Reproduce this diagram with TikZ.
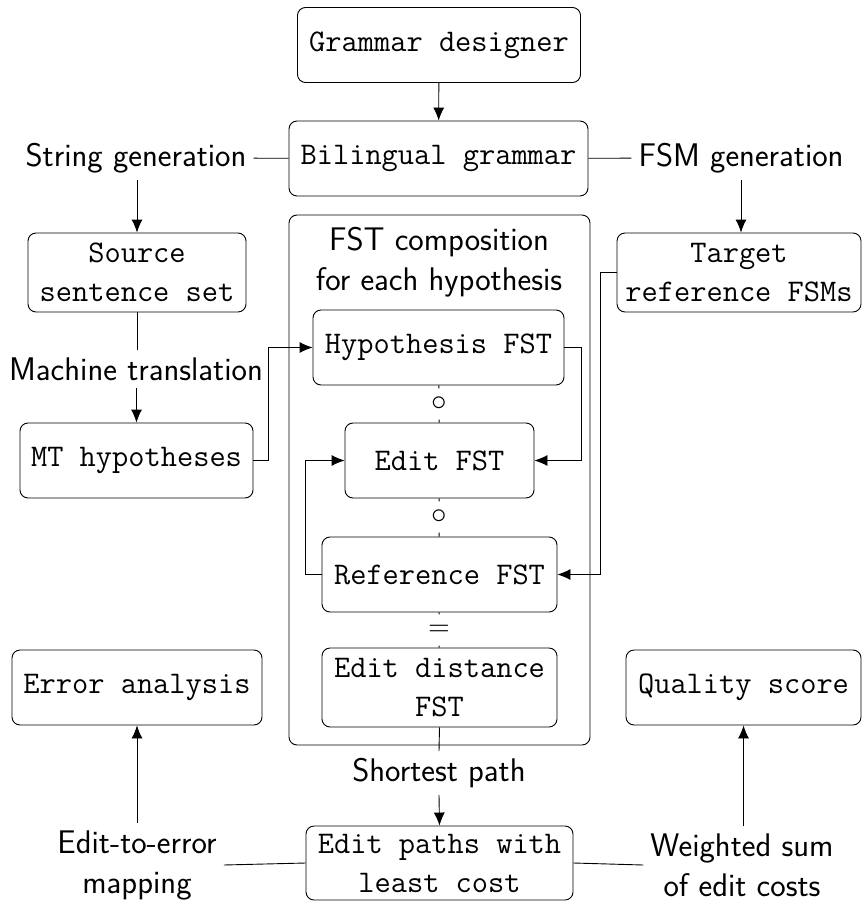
\documentclass[tikz,border=0pt]{standalone}
\usepackage{fontspec}
\usetikzlibrary{arrows.meta}
\tikzset{
  x=1pt, y=-1pt,
  box/.style={draw, rounded corners=8pt, line width=0.9pt, align=center, inner sep=0pt,
    font=\fontsize{31.5}{39}\selectfont\ttfamily},
  lbl/.style={align=center, inner sep=7pt, font=\fontsize{32.7}{40}\selectfont\sffamily},
  op/.style={inner sep=0pt, minimum height=31pt},
  conn/.style={line width=0.9pt},
  arr/.style={line width=0.9pt, -{Latex[length=13pt,width=11pt]}}
}
\begin{document}
\begin{tikzpicture}
\useasboundingbox (0,0) rectangle (862,904);
% container
\node[box, minimum width=301pt, minimum height=530pt] (cont) at (439.5,480) {};
% boxes
\node[box, minimum width=283pt, minimum height=75pt] (gd) at (439,45) {Grammar designer};
\node[box, minimum width=299pt, minimum height=75pt] (bg) at (438.5,158.5) {Bilingual grammar};
\node[box, minimum width=218pt, minimum height=79pt] (src) at (137,272.5) {Source\\sentence set};
\node[box, minimum width=233pt, minimum height=75pt] (mt) at (136.5,460.5) {MT hypotheses};
\node[box, minimum width=251pt, minimum height=75pt] (hyp) at (438.5,347.5) {Hypothesis FST};
\node[box, minimum width=189pt, minimum height=75pt] (edit) at (439.5,460.5) {Edit FST};
\node[box, minimum width=235pt, minimum height=75pt] (ref) at (439.5,574.5) {Reference FST};
\node[box, minimum width=244pt, minimum height=79pt] (tgt) at (739,272.5) {Target\\reference FSMs};
\node[box, minimum width=235pt, minimum height=79pt] (edd) at (439.5,687.5) {Edit distance\\FST};
\node[box, minimum width=267pt, minimum height=74pt] (ep) at (439.5,863) {Edit paths with\\least cost};
\node[box, minimum width=250pt, minimum height=75pt] (ea) at (137,687.5) {Error analysis};
\node[box, minimum width=235pt, minimum height=75pt] (qs) at (743.5,687.5) {Quality score};
% labels
\node[lbl] (sg) at (136,158) {String generation};
\node[lbl] (fg) at (741,158) {FSM generation};
\node[lbl] (mtl) at (136,369) {Machine translation};
\node[lbl] (fc) at (439,262) {FST composition\\for each hypothesis};
\node[lbl] (sp) at (439,773) {Shortest path};
\node[lbl] (e2e) at (137,865) {Edit-to-error\\mapping};
\node[lbl] (ws) at (742,865) {Weighted sum\\of edit costs};
\node[op] (c1) at (439,404) {\scalebox{3.1}{$\circ$}};
\node[op] (c2) at (439,517) {\scalebox{3.1}{$\circ$}};
\node[op] (eq) at (439,630) {\scalebox{2.8}{$=$}};
% connectors
\draw[arr] (gd) -- (bg);
\draw[conn] (sg) -- (bg);
\draw[conn] (bg) -- (fg);
\draw[arr] (sg.south -| src.north) -- (src.north);
\draw[arr] (fg.south) -- (fg.south |- tgt.north);
\draw[conn] (src.south) -- (src.south |- mtl.north);
\draw[arr] (mt.north |- mtl.south) -- (mt.north);
\draw[arr] (mt.east) -- ++(15,0) |- (hyp.west);
\draw[arr] (hyp.east) -- ++(17,0) |- (edit.east);
\draw[arr] (ref.west) -- ++(-16,0) |- (edit.west);
\draw[arr] (tgt.west) -- ++(-16,0) |- (ref.east);
\draw[conn] (hyp) -- (c1) -- (edit);
\draw[conn] (edit) -- (c2) -- (ref);
\draw[conn] (ref) -- (eq) -- (edd);
\draw[conn] (edd.south) -- (sp.north);
\draw[arr] (sp.south) -- (ep.north);
\draw[arr] (e2e.north -| ea.south) -- (ea.south);
\draw[arr] (ws.north -| qs.south) -- (qs.south);
\draw[conn] (ep.west) -- (e2e.east);
\draw[conn] (ep.east) -- (ws.west);
\end{tikzpicture}
\end{document}
